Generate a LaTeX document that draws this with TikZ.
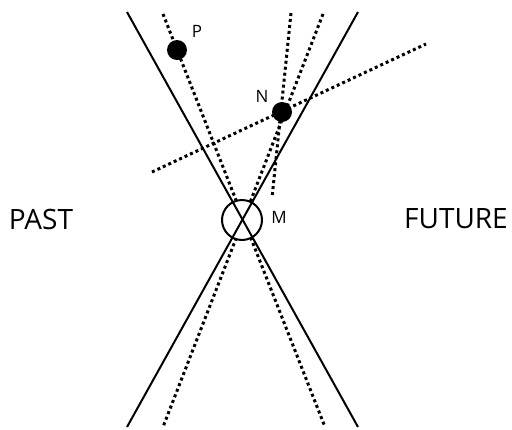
\documentclass[tikz,border=0pt]{standalone}
\usepackage{fontspec}
\setmainfont{Open Sans}
\begin{document}
\begin{tikzpicture}[x=1pt,y=-1pt,
  solidline/.style={line width=2pt},
  dashline/.style={line width=3pt, dash pattern=on 3pt off 3pt},
  dotnode/.style={circle, fill=black, minimum size=20pt, inner sep=0pt},
  ringnode/.style={circle, draw, fill=white, line width=2pt, minimum size=40pt, inner sep=0pt},
  lbl/.style={font=\fontsize{17}{19}\selectfont, inner sep=0pt},
  big/.style={font=\fontsize{28}{32}\selectfont, inner sep=0pt}]
\useasboundingbox (0,0) rectangle (512,429);
% endpoints
\coordinate (s1a) at (127,12);
\coordinate (s1b) at (358,427);
\coordinate (s2a) at (358,12);
\coordinate (s2b) at (127,427);
\coordinate (d1a) at (163,14);
\coordinate (d1b) at (325,427);
\coordinate (d2a) at (323,14);
\coordinate (d2b) at (163,427);
\coordinate (d3a) at (291,13);
\coordinate (d3b) at (272,198);
\coordinate (d4a) at (152,172);
\coordinate (d4b) at (426,44);
% dashed lines (drawn first, hidden inside M)
\draw[dashline] (d1a) -- (d1b);
\draw[dashline] (d2a) -- (d2b);
\draw[dashline] (d3a) -- (d3b);
\draw[dashline] (d4a) -- (d4b);
% nodes
\node[ringnode] (M) at (242,220) {};
\node[dotnode] (P) at (177,50) {};
\node[dotnode] (N) at (282,112) {};
% solid lines
\draw[solidline] (s1a) -- (s1b);
\draw[solidline] (s2a) -- (s2b);
% labels
\node[lbl] (Pl) at (197,31) {P};
\node[lbl] (Nl) at (262,96) {N};
\node[lbl] (Ml) at (279,217) {M};
\node[big] (past) at (41,219) {PAST};
\node[big] (future) at (456,219) {FUTURE};
\end{tikzpicture}
\end{document}
